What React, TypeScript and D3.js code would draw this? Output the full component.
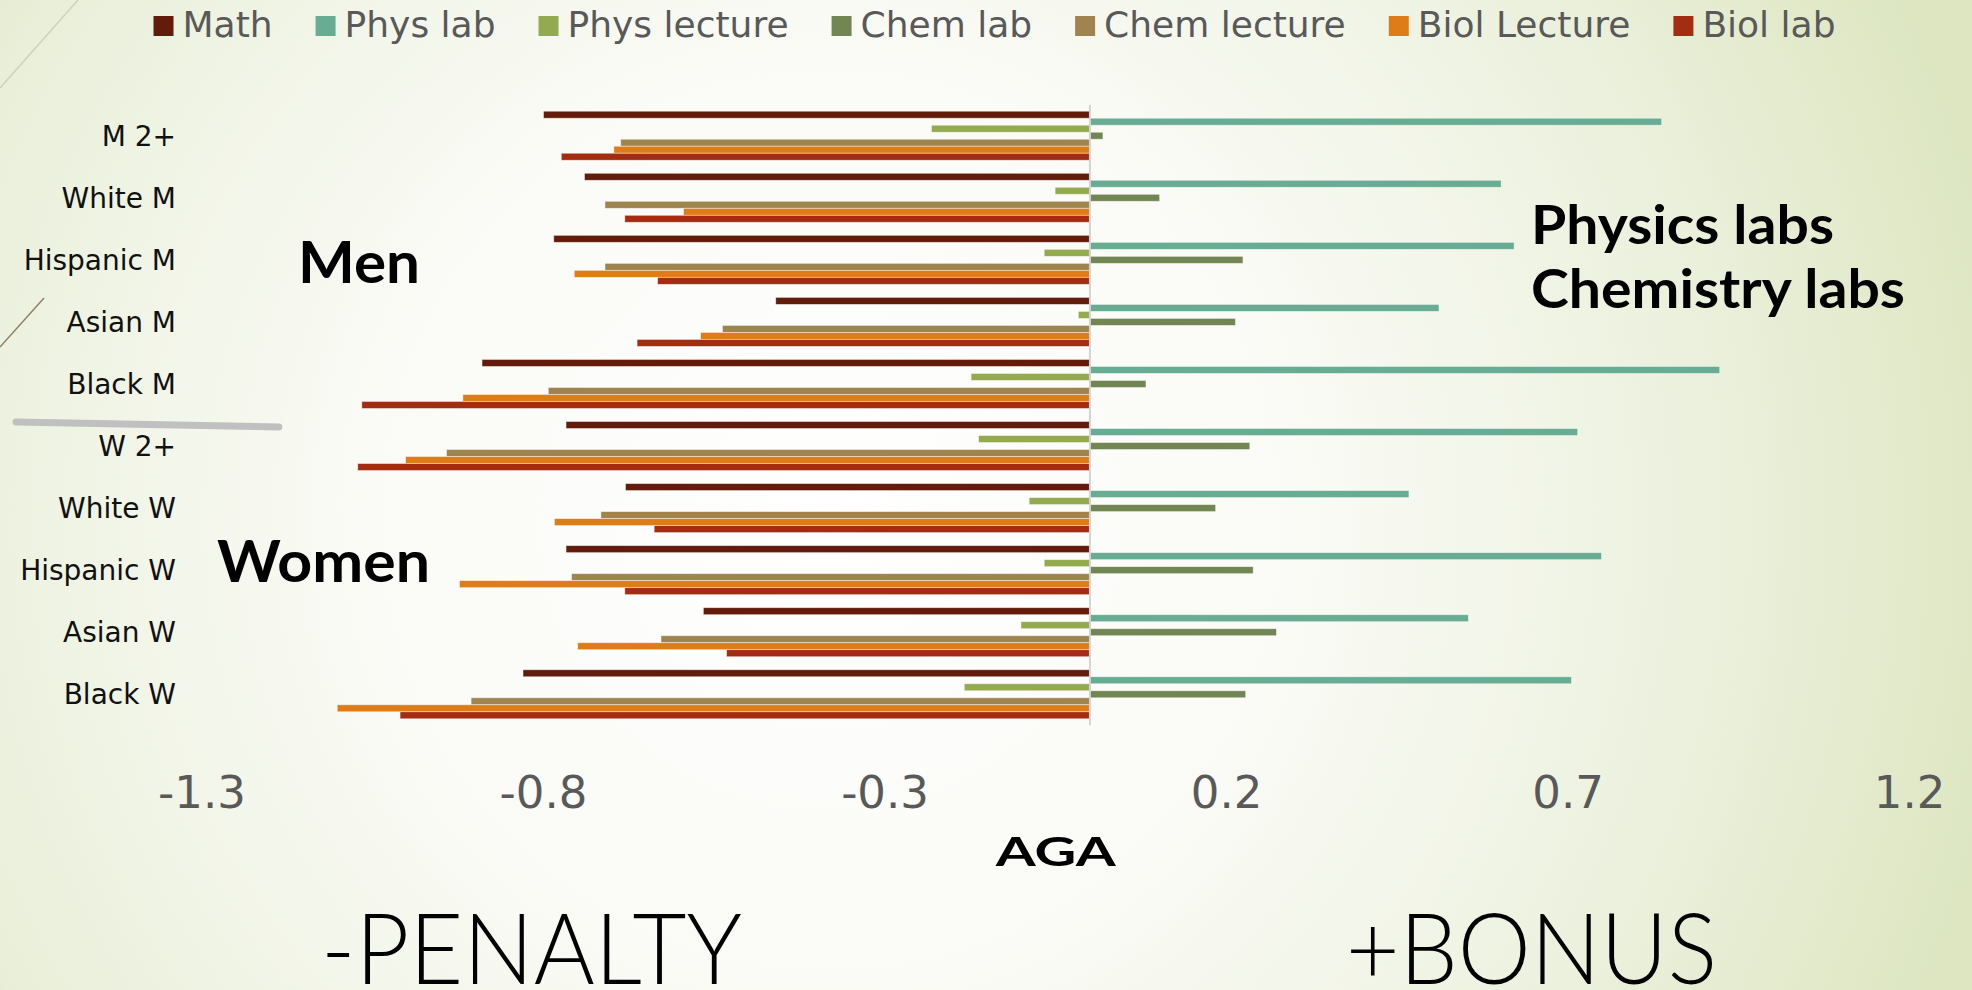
import React, { useEffect, useRef } from "react";
import * as d3 from "d3";

// Groups, top to bottom
const categories = [
  "M 2+", "White M", "Hispanic M", "Asian M", "Black M",
  "W 2+", "White W", "Hispanic W", "Asian W", "Black W",
];

const seriesNames = ["Math", "Phys lab", "Phys lecture", "Chem lab", "Chem lecture", "Biol Lecture", "Biol lab"];

// AGA per course, one value per group in the order of `categories`
const mathAGA = [-0.80, -0.74, -0.785, -0.46, -0.89, -0.767, -0.68, -0.767, -0.566, -0.83];
const physLabAGA = [0.837, 0.602, 0.621, 0.511, 0.922, 0.714, 0.467, 0.749, 0.554, 0.705];
const physLectureAGA = [-0.232, -0.051, -0.067, -0.017, -0.174, -0.163, -0.089, -0.067, -0.101, -0.184];
const chemLabAGA = [0.019, 0.102, 0.224, 0.213, 0.082, 0.234, 0.184, 0.239, 0.273, 0.228];
const chemLectureAGA = [-0.687, -0.71, -0.71, -0.538, -0.793, -0.942, -0.716, -0.759, -0.628, -0.906];
const biolLectureAGA = [-0.697, -0.595, -0.755, -0.57, -0.918, -1.002, -0.784, -0.923, -0.75, -1.102];
const biolLabAGA = [-0.774, -0.681, -0.633, -0.663, -1.066, -1.072, -0.638, -0.681, -0.532, -1.01];

const seriesValues = [mathAGA, physLabAGA, physLectureAGA, chemLabAGA, chemLectureAGA, biolLectureAGA, biolLabAGA];

const seriesColors = ["#631b0c", "#68ad93", "#94aa4e", "#728653", "#a08450", "#de7c17", "#a42d11"];

const xTicks = [-1.3, -0.8, -0.3, 0.2, 0.7, 1.2];

const W = 1972;
const H = 990;

const REGULAR = "'DejaVu Sans', 'Liberation Sans', sans-serif";
const BOLD = "Lato, 'DejaVu Sans', sans-serif";

export default function App() {
  const ref = useRef<SVGSVGElement | null>(null);

  useEffect(() => {
    const svg = d3.select(ref.current);
    svg.selectAll("*").remove();

    // background
    const defs = svg.append("defs");
    const grad = defs
      .append("radialGradient")
      .attr("id", "bg")
      .attr("gradientUnits", "userSpaceOnUse")
      .attr("cx", 830)
      .attr("cy", 520)
      .attr("r", 1200);
    grad.append("stop").attr("offset", 0).attr("stop-color", "#ffffff");
    grad.append("stop").attr("offset", 0.38).attr("stop-color", "#fafbf6");
    grad.append("stop").attr("offset", 0.72).attr("stop-color", "#ecf1de");
    grad.append("stop").attr("offset", 1).attr("stop-color", "#dde6c1");
    svg.append("rect").attr("width", W).attr("height", H).attr("fill", "url(#bg)");

    // theme ornaments at the left edge
    svg.append("line").attr("x1", 78).attr("y1", 0).attr("x2", 0).attr("y2", 88)
      .attr("stroke", "#cfd4c0").attr("stroke-width", 1.6);
    svg.append("line").attr("x1", 44).attr("y1", 298).attr("x2", 0).attr("y2", 347)
      .attr("stroke", "#8d7f5f").attr("stroke-width", 1.4);

    // scales
    const x = d3.scaleLinear().domain([-1.3, 1.2]).range([202, 1909.6]);
    const y = d3
      .scaleBand<string>()
      .domain(categories)
      .range([104.7, 725.3])
      .paddingInner(0.21)
      .paddingOuter(0.105);
    const ySeries = d3.scaleBand<string>().domain(seriesNames).range([0, y.bandwidth()]);

    // bars
    const barsG = svg.append("g");
    seriesNames.forEach((name, si) => {
      barsG
        .append("g")
        .selectAll("rect")
        .data(seriesValues[si])
        .join("rect")
        .attr("x", (v) => Math.min(x(0), x(v)))
        .attr("width", (v) => Math.abs(x(v) - x(0)))
        .attr("y", (_, i) => (y(categories[i]) as number) + (ySeries(name) as number))
        .attr("height", ySeries.bandwidth())
        .attr("fill", seriesColors[si])
        .attr("stroke", "rgba(255,255,255,0.55)")
        .attr("stroke-width", 0.8);
    });

    // zero axis
    svg.append("line")
      .attr("x1", x(0)).attr("x2", x(0))
      .attr("y1", 104.7).attr("y2", 725.3)
      .attr("stroke", "#d4d4d4").attr("stroke-width", 2);

    // category labels
    svg.append("g")
      .selectAll("text")
      .data(categories)
      .join("text")
      .attr("x", 176)
      .attr("y", (d) => (y(d) as number) + y.bandwidth() / 2 + 10)
      .attr("text-anchor", "end")
      .attr("font-family", REGULAR)
      .attr("font-size", 28)
      .attr("fill", "#111")
      .text((d) => d);

    // separator between men and women
    svg.append("line").attr("x1", 16).attr("y1", 422).attr("x2", 279).attr("y2", 427)
      .attr("stroke", "#c0c0c0").attr("stroke-width", 7).attr("stroke-linecap", "round");

    // x tick labels (plain hyphen for negatives)
    svg.append("g")
      .selectAll("text")
      .data(xTicks)
      .join("text")
      .attr("x", (d) => x(d))
      .attr("y", 808)
      .attr("text-anchor", "middle")
      .attr("font-family", REGULAR)
      .attr("font-size", 45)
      .attr("fill", "#595959")
      .text((d) => d.toFixed(1));

    const fitted = (
      txt: string, tx: number, ty: number, size: number, weight: number,
      width: number, family: string, anchor = "start"
    ) =>
      svg.append("text")
        .attr("x", tx).attr("y", ty)
        .attr("text-anchor", anchor)
        .attr("font-family", family)
        .attr("font-size", size)
        .attr("font-weight", weight)
        .attr("fill", "#000")
        .attr("textLength", width)
        .attr("lengthAdjust", "spacingAndGlyphs")
        .text(txt);

    // axis title
    fitted("AGA", (x(-1.3) + x(1.2)) / 2, 866, 41, 700, 120, BOLD, "middle");

    // annotations
    fitted("Men", 298, 283, 57, 700, 122, BOLD);
    fitted("Women", 217, 582, 58, 700, 213, BOLD);
    fitted("Physics labs", 1531, 244, 53, 700, 303, BOLD);
    fitted("Chemistry labs", 1531, 308, 53, 700, 374, BOLD);
    fitted("-PENALTY", 321, 984, 98, 300, 421, "Lato, 'DejaVu Sans', sans-serif");
    fitted("+BONUS", 1346, 984, 98, 300, 371, "Lato, 'DejaVu Sans', sans-serif");

    // legend, laid out left to right from measured text widths
    const legend = svg.append("g");
    let cursor = 0;
    seriesNames.forEach((name, i) => {
      legend.append("rect")
        .attr("x", cursor).attr("y", 16).attr("width", 20).attr("height", 20)
        .attr("fill", seriesColors[i]);
      const t = legend.append("text")
        .attr("x", cursor + 29).attr("y", 37)
        .attr("font-family", REGULAR)
        .attr("font-size", 36)
        .attr("fill", "#595959")
        .text(name);
      const w = (t.node() as SVGTextElement).getComputedTextLength();
      cursor += 29 + w + 43;
    });
    const total = cursor - 43;
    legend.attr("transform", `translate(${994.5 - total / 2},0)`);
  }, []);

  return (
    <svg
      ref={ref}
      width={W}
      height={H}
      style={{ position: "absolute", left: 0, top: 0, display: "block" }}
    />
  );
}
